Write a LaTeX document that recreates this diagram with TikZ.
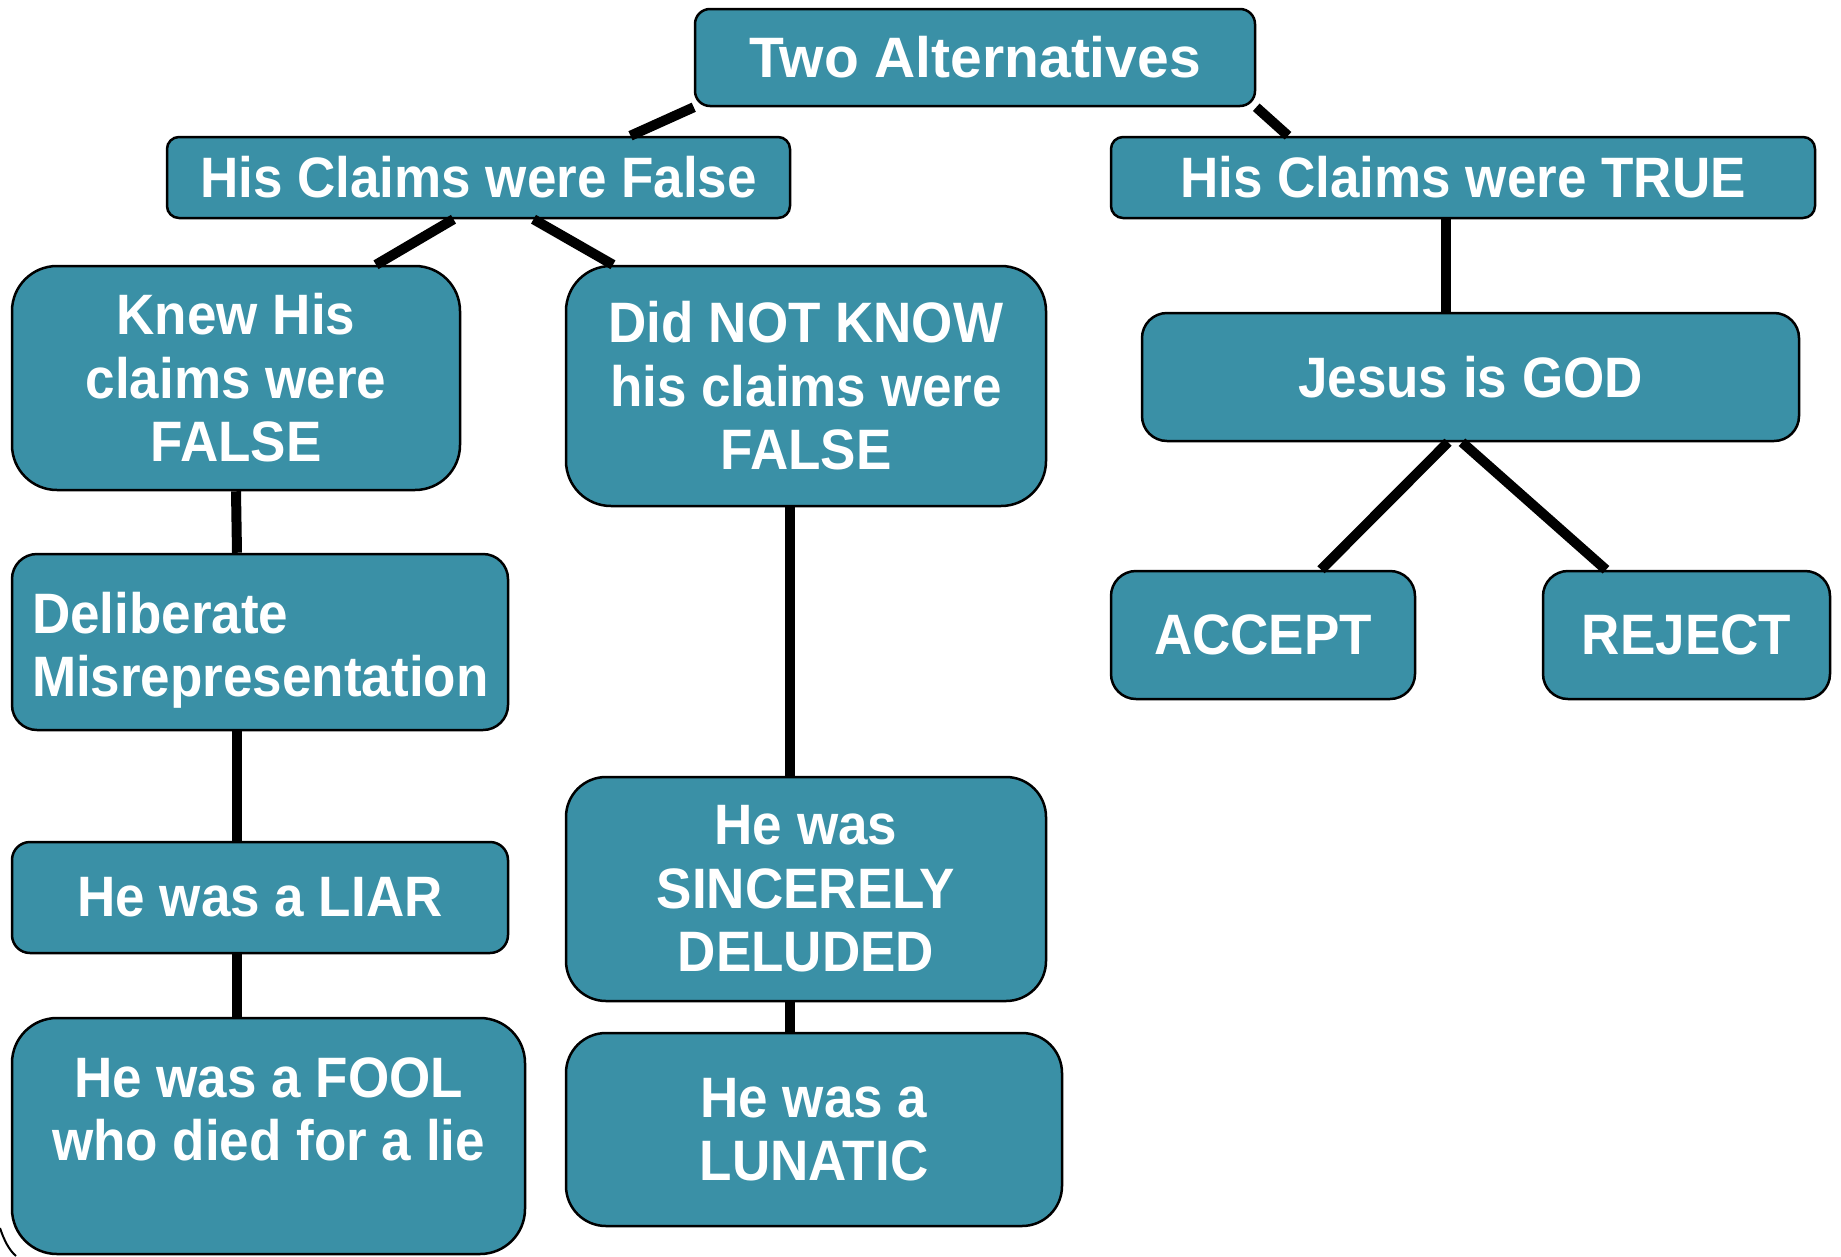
\documentclass[tikz,border=0pt]{standalone}
\usepackage{fontspec}
\setmainfont[FakeStretch=0.93]{Liberation Sans}
\newfontfamily\titlefont{Liberation Sans}
\definecolor{boxteal}{RGB}{58,144,166}
\tikzset{
  tbox/.style={draw=black, line width=2.5pt, fill=boxteal, text=white,
    font=\fontsize{57}{63.5}\selectfont\bfseries, align=center,
    inner sep=0pt, rounded corners=#1},
  tbox/.default=18pt,
  link/.style={line width=10pt}
}
\begin{document}
\begin{tikzpicture}[x=1pt,y=-1pt]
\useasboundingbox (0,0) rectangle (1841,1256);
% top level
\node[tbox=15pt, minimum width=560pt, minimum height=97pt,
  font=\fontsize{57}{64}\titlefont\bfseries] (title) at (975,57.5) {Two Alternatives};
\node[tbox=12pt, minimum width=623pt, minimum height=81pt] (falsebox) at (478.5,177.5) {His Claims were False};
\node[tbox=12pt, minimum width=704pt, minimum height=81pt] (truebox) at (1463,177.5) {His Claims were TRUE};
% false branch
\node[tbox=45pt, minimum width=448pt, minimum height=224pt] (knew) at (236,378) {Knew His\\claims were\\FALSE};
\node[tbox=45pt, minimum width=480pt, minimum height=240pt] (notknow) at (806,386) {Did NOT KNOW\\his claims were\\FALSE};
\node[tbox=25pt, minimum width=496pt, minimum height=176pt, text width=456pt, align=left] (delib) at (260,642) {\rule{0pt}{58pt}Deliberate\\Misrepresentation};
\node[tbox, minimum width=496pt, minimum height=111pt] (liar) at (260,897.5) {He was a LIAR};
\node[tbox=45pt, minimum width=513pt, minimum height=236pt] (fool) at (268.5,1136) {He was a FOOL\\who died for a lie\\[-29pt]\strut};
\node[tbox=40pt, minimum width=480pt, minimum height=224pt] (sincere) at (806,889) {He was\\SINCERELY\\DELUDED};
\node[tbox=40pt, minimum width=496pt, minimum height=193pt] (lunatic) at (814,1129.5) {He was a\\LUNATIC};
% true branch
\node[tbox=25pt, minimum width=657pt, minimum height=128pt] (jesus) at (1470.5,377) {Jesus is GOD};
\node[tbox=25pt, minimum width=304pt, minimum height=128pt] (accept) at (1263,635) {ACCEPT};
\node[tbox=25pt, minimum width=287pt, minimum height=128pt] (reject) at (1686.5,635) {REJECT};
% connectors
\draw[link] (title.south west) -- ([xshift=152pt]falsebox.north);
\draw[link] (title.south east) -- ([xshift=-175pt]truebox.north);
\draw[link] ([xshift=-25pt]falsebox.south) -- ([xshift=140pt]knew.north);
\draw[link] ([xshift=55pt]falsebox.south) -- ([xshift=-193pt]notknow.north);
\draw[link] ([xshift=-17pt]truebox.south) -- ([xshift=-24.5pt]jesus.north);
\draw[link] ([xshift=-22.5pt]jesus.south) -- ([xshift=58pt]accept.north);
\draw[link] ([xshift=-8.5pt]jesus.south) -- ([xshift=-80.5pt]reject.north);
\draw[link] (knew.south) -- ([xshift=-23pt]delib.north);
\draw[link] ([xshift=-23pt]delib.south) -- ([xshift=-23pt]liar.north);
\draw[link] ([xshift=-23pt]liar.south) -- ([xshift=-31.5pt]fool.north);
\draw[link] ([xshift=-16pt]notknow.south) -- ([xshift=-16pt]sincere.north);
\draw[link] ([xshift=-16pt]sincere.south) -- ([xshift=-24pt]lunatic.north);
% stray arc in the corner
\draw[line width=2pt] (0,1228) .. controls (4,1240) and (9,1250) .. (16,1256);
\end{tikzpicture}
\end{document}
